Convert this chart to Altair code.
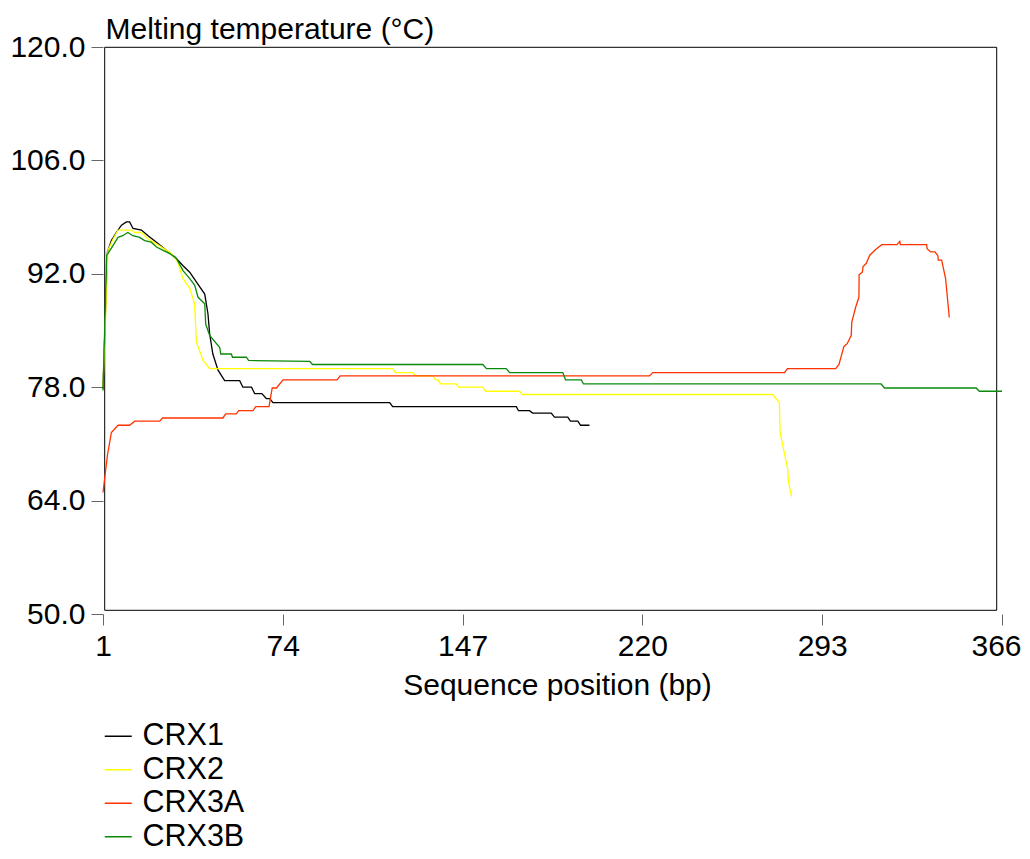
import altair as alt
import pandas as pd

# ---- data ----
series_names = ["CRX1", "CRX2", "CRX3A", "CRX3B"]
series_colors = ["#000000", "#FFFF00", "#FF3300", "#0A8A0A"]

crx1_pos = [1, 2.8, 4.4, 6.4, 8.5, 10.5, 11.8, 13.2, 16.6, 19.3, 22.7, 26.7, 30.1, 33.5, 36.2, 38.9,
            42.3, 43.6, 44.3, 45.6, 47.7, 50.4, 56.5, 57.8, 61.3, 62.6, 65.5, 67.3, 68.7, 70.0, 117.4,
            118.6, 168.8, 169.7, 174.2, 175.4, 183.0, 184.3, 189.7, 190.8, 193.8, 194.9, 198.5]
crx1_tm = [77.8, 94.7, 96.1, 97.1, 98.0, 98.4, 98.4, 97.6, 97.4, 96.7, 95.9, 94.9, 94.1, 93.0, 92.2, 91.0,
           89.5, 87.1, 84.6, 82.1, 80.1, 78.8, 78.8, 78.0, 78.0, 77.2, 77.2, 76.6, 76.6, 76.1, 76.1,
           75.6, 75.6, 75.1, 75.1, 74.8, 74.8, 74.3, 74.3, 73.8, 73.8, 73.3, 73.3]

crx2_pos = [1, 3.0, 5.1, 7.1, 12.5, 13.9, 16.6, 19.3, 22.7, 28.8, 31.4, 33.5, 36.2, 38.2, 38.9, 41.6,
            44.3, 118.7, 119.8, 126.8, 127.9, 134.9, 136.0, 137.0, 138.1, 144.4, 145.4, 155.2, 156.3,
            170.1, 171.3, 272.9, 275.6, 275.9, 277.7, 279.0, 279.3, 280.6]
crx2_tm = [78.0, 94.9, 96.3, 97.4, 97.4, 97.1, 97.1, 96.3, 95.7, 94.5, 93.4, 91.4, 90.2, 88.3, 83.6, 81.3,
           80.3, 80.3, 79.8, 79.8, 79.4, 79.4, 78.9, 78.9, 78.4, 78.4, 78.0, 78.0, 77.5,
           77.5, 77.1, 77.1, 76.1, 72.4, 69.8, 67.9, 66.3, 64.5]

crx3a_pos = [1, 2.8, 4.4, 7.1, 11.8, 13.9, 24.0, 25.2, 49.7, 50.8, 55.1, 56.1, 61.9, 63.0, 68.4, 69.7,
             71.4, 74.1, 96.0, 97.3, 222.9, 224.2, 277.7, 278.9, 298.5, 299.8, 301.8, 303.2, 304.8, 305.0,
             306.6, 307.9, 308.0, 309.3, 309.6, 310.9, 312.3, 314.7, 317.2, 323.3, 324.5, 324.7, 335.4,
             335.6, 337.0, 338.8, 340.0, 340.1, 341.5, 343.1, 344.6]
crx3a_tm = [65.0, 69.6, 72.4, 73.3, 73.3, 73.8, 73.8, 74.2, 74.2, 74.7, 74.7, 75.1, 75.1, 75.6, 75.6, 77.9,
            77.9, 78.9, 78.9, 79.4, 79.4, 79.8, 79.8, 80.3, 80.3, 80.8, 83.0, 83.4, 84.4, 86.0,
            87.9, 89.1, 91.9, 92.2, 92.9, 93.3, 94.3, 95.0, 95.6, 95.6, 96.0, 95.6, 95.6,
            95.1, 94.7, 94.7, 94.2, 93.7, 93.7, 91.4, 86.6]

crx3b_pos = [1, 2.5, 3.0, 5.1, 7.1, 9.0, 11.1, 13.1, 15.9, 17.9, 20.6, 22.7, 25.4, 28.1, 30.8, 33.5, 36.2,
             38.2, 39.6, 42.3, 42.7, 44.3, 48.4, 48.8, 53.1, 53.6, 59.2, 60.1, 84.9, 86.1, 155.2, 156.7,
             164.7, 166.1, 187.7, 188.8, 195.2, 196.1, 316.9, 318.3, 355.5, 356.8, 366]
crx3b_tm = [77.6, 94.3, 94.5, 95.5, 96.5, 96.7, 97.1, 96.7, 96.5, 96.1, 95.9, 95.3, 94.9, 94.5, 93.9, 92.4, 91.4,
            90.6, 89.1, 88.3, 85.8, 84.4, 82.9, 82.1, 82.1, 81.7, 81.7, 81.3, 81.2, 80.8, 80.8, 80.3,
            80.3, 79.8, 79.8, 78.9, 78.9, 78.4, 78.4, 77.9, 77.9, 77.5, 77.5]

x_ticks = [1, 74, 147, 220, 293, 366]
y_ticks = [50, 64, 78, 92, 106, 120]

rows = []
for name, ps, ts in zip(series_names,
                        [crx1_pos, crx2_pos, crx3a_pos, crx3b_pos],
                        [crx1_tm, crx2_tm, crx3a_tm, crx3b_tm]):
    for i, (p, t) in enumerate(zip(ps, ts)):
        rows.append({"series": name, "pos": p, "tm": t, "idx": i})
df = pd.DataFrame(rows)

FONT = "Liberation Sans"
W, H = 899, 567

lines = alt.Chart(df).mark_line(strokeWidth=1.3).encode(
    x=alt.X("pos:Q",
            scale=alt.Scale(domain=[1, 366], nice=False, zero=False),
            axis=alt.Axis(values=x_ticks, title="Sequence position (bp)", format="d",
                          domain=False, grid=False, tickSize=11, tickColor="#666666",
                          labelFlush=False, labelOverlap=False,
                          labelOffset={"condition": {"test": "datum.value == 366", "value": -6}, "value": 0},
                          labelFontSize=30, labelFont=FONT, labelColor="black", labelPadding=6,
                          titleFontSize=30, titleFont=FONT, titleFontWeight="normal", titleColor="black",
                          titleX=454, titleY=80, titleAlign="center", titleBaseline="alphabetic")),
    y=alt.Y("tm:Q",
            scale=alt.Scale(domain=[50, 120], nice=False, zero=False),
            axis=alt.Axis(values=y_ticks, title="Melting temperature (°C)", format=".1f",
                          domain=False, grid=False, tickSize=12, tickColor="#666666",
                          labelFlush=False, labelOverlap=False,
                          labelFontSize=30, labelFont=FONT, labelColor="black", labelPadding=6,
                          titleFontSize=30, titleFont=FONT, titleFontWeight="normal", titleColor="black",
                          titleAngle=0, titleX=2, titleY=-9, titleAlign="left", titleBaseline="alphabetic")),
    color=alt.Color("series:N",
                    scale=alt.Scale(domain=series_names, range=series_colors),
                    legend=alt.Legend(title=None, orient="none", legendX=0, legendY=674,
                                      direction="vertical", symbolType="stroke", symbolSize=729,
                                      symbolStrokeWidth=1.5, labelFontSize=30.5, labelFont=FONT,
                                      labelColor="black", labelOffset=9, rowPadding=2.5)),
    order="idx:Q",
)

frame = alt.Chart(pd.DataFrame({"a": [0]})).mark_rect(
    fill="transparent", stroke="black", strokeWidth=1
).encode(x=alt.value(1.7), x2=alt.value(893.7), y=alt.value(0.3), y2=alt.value(563.3))

chart = alt.layer(frame, lines).properties(
    width=W, height=H,
    autosize=alt.AutoSizeParams(type="none"),
    padding={"left": 95, "top": 39, "right": 20, "bottom": 237},
    background="white",
).configure_view(stroke=None)

chart.save("out.html", embed_options={"renderer": "svg", "actions": False})
